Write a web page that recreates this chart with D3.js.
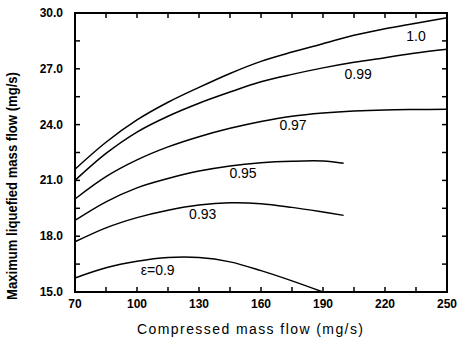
<!DOCTYPE html>
<html><head><meta charset="utf-8">
<script src="https://cdn.jsdelivr.net/npm/d3@7"></script>
<style>body{margin:0;background:#fff}svg{display:block}</style>
</head><body>
<svg id="c" width="459" height="345"></svg>
<script>
const xTicks = [70,100,130,160,190,220,250];
const yTicks = [15.0,18.0,21.0,24.0,27.0,30.0];
const xGrid = [70,85,100,115,130,145,160,175,190,205,220,235,250];
const xShort = [70,85,100,115,130,145,160,175,190,200];
const xE090 = [70,85,100,115,130,145,160,175,190];
const e100 = [21.6,23.05,24.25,25.2,26.0,26.75,27.4,27.9,28.35,28.8,29.15,29.45,29.75];
const e099 = [21.0,22.45,23.6,24.45,25.15,25.75,26.3,26.7,27.05,27.35,27.6,27.85,28.05];
const e097 = [20.0,21.2,22.1,22.8,23.35,23.8,24.17,24.45,24.62,24.73,24.79,24.81,24.82];
const e095 = [18.85,19.85,20.6,21.1,21.5,21.78,21.95,22.03,22.04,21.92];
const e093 = [17.7,18.45,19.0,19.4,19.68,19.8,19.75,19.55,19.3,19.12];
const e090 = [15.75,16.3,16.65,16.85,16.85,16.62,16.15,15.6,15.0];
const seriesLabels = ["1.0","0.99","0.97","0.95","0.93","\u03b5=0.9"];
const labelAt = [[235,28.7],[207,26.65],[175.5,23.9],[151.3,21.34],[131.8,19.1],[110,16.09]];

const svg = d3.select("#c");
const L=75,R=447,T=13,B=292;
const x = d3.scaleLinear().domain([70,250]).range([L,R]);
const y = d3.scaleLinear().domain([15,30]).range([B,T]);

// frame ticks (inward) on all four sides
const minorX = d3.range(70,251,15);
const minorY = d3.range(15,30.01,1.5);
const tk = svg.append("g").attr("stroke","#000").attr("stroke-width",1.5);
tk.selectAll("line.bx").data(minorX).join("line").attr("class","bx")
  .attr("x1",d=>x(d)).attr("x2",d=>x(d)).attr("y1",B).attr("y2",B-5);
tk.selectAll("line.tx").data(minorX).join("line").attr("class","tx")
  .attr("x1",d=>x(d)).attr("x2",d=>x(d)).attr("y1",T).attr("y2",T+5);
tk.selectAll("line.ly").data(minorY).join("line").attr("class","ly")
  .attr("x1",L).attr("x2",L+5).attr("y1",d=>y(d)).attr("y2",d=>y(d));
tk.selectAll("line.ry").data(minorY).join("line").attr("class","ry")
  .attr("x1",R).attr("x2",R-5).attr("y1",d=>y(d)).attr("y2",d=>y(d));

const series = [
  [xGrid,e100],[xGrid,e099],[xGrid,e097],[xShort,e095],[xShort,e093],[xE090,e090]
];
const lineGen = d3.line().x(d=>x(d[0])).y(d=>y(d[1])).curve(d3.curveCatmullRom);
const plot = svg.append("g");
series.forEach(([xs,ys])=>{
  plot.append("path").datum(xs.map((v,i)=>[v,ys[i]]))
   .attr("d",lineGen).attr("fill","none").attr("stroke","#000").attr("stroke-width",1.5);
});
seriesLabels.forEach((t,i)=>{
  plot.append("text").attr("x",x(labelAt[i][0])).attr("y",y(labelAt[i][1]))
   .attr("text-anchor","middle").attr("dominant-baseline","middle")
   .attr("font-family","Liberation Sans, Arial, sans-serif").attr("font-size",14).text(t);
});

svg.append("rect").attr("x",L).attr("y",T).attr("width",R-L).attr("height",B-T)
  .attr("fill","none").attr("stroke","#000").attr("stroke-width",2);

const tf = "Liberation Sans Narrow, Liberation Sans, Arial, sans-serif";
svg.append("g").selectAll("text").data(xTicks).join("text")
  .attr("x",d=>x(d)).attr("y",B+16).attr("text-anchor","middle")
  .attr("font-family",tf).attr("font-weight","bold").attr("font-size",12).text(d=>d);
svg.append("g").selectAll("text").data(yTicks).join("text")
  .attr("x",L-12).attr("y",d=>y(d)+4).attr("text-anchor","end")
  .attr("font-family",tf).attr("font-weight","bold").attr("font-size",12).text(d=>d.toFixed(1));

svg.append("text").attr("x",250).attr("y",334).attr("text-anchor","middle")
  .attr("font-family","Liberation Sans, Arial, sans-serif").attr("font-size",14)
  .attr("textLength",226).attr("lengthAdjust","spacing")
  .text("Compressed mass flow (mg/s)");
svg.append("text").attr("transform","translate(17,186) rotate(-90)").attr("text-anchor","middle")
  .attr("font-family",tf).attr("font-weight","bold").attr("font-size",14)
  .attr("textLength",228).attr("lengthAdjust","spacingAndGlyphs")
  .text("Maximum liquefied mass flow (mg/s)");
</script>
</body></html>
